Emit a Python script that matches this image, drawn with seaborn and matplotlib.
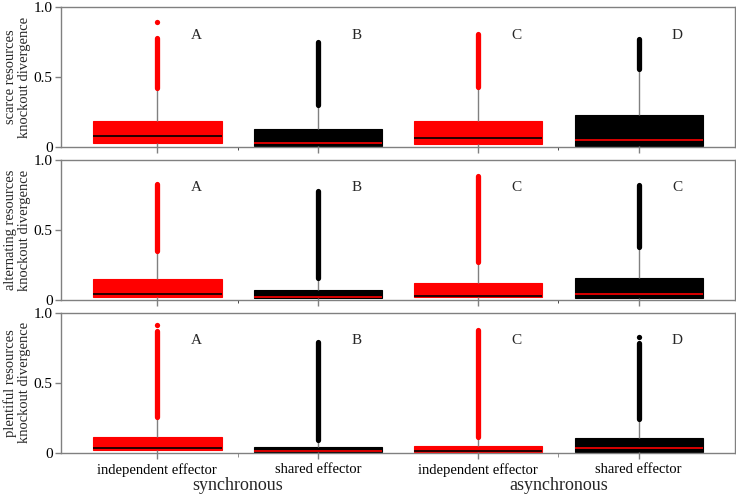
import numpy as np
import pandas as pd
import matplotlib.pyplot as plt
import matplotlib.transforms as mtransforms
import seaborn as sns

# box slots: sync indep, sync shared, async indep, async shared
slots = ['sync_indep', 'sync_shared', 'async_indep', 'async_shared']
tick_labels = ['independent effector', 'shared effector', 'independent effector', 'shared effector']
groups = ['synchronous', 'asynchronous']
row_labels = ['scarce resources\nknockout divergence',
              'alternating resources\nknockout divergence',
              'plentiful resources\nknockout divergence']

# five-number style summaries (one list per row)
q1 = [[0.034, 0.010, 0.024, 0.010],
      [0.024, 0.012, 0.019, 0.012],
      [0.019, 0.007, 0.009, 0.010]]
med = [[0.081, 0.033, 0.069, 0.055],
       [0.047, 0.021, 0.031, 0.043],
       [0.033, 0.015, 0.015, 0.038]]
q3 = [[0.190, 0.129, 0.188, 0.230],
      [0.154, 0.069, 0.119, 0.161],
      [0.116, 0.045, 0.052, 0.107]]
whisk_lo = [[0.0, 0.0, 0.0, 0.0],
            [0.0, 0.0, 0.0, 0.0],
            [0.0, 0.0, 0.0, 0.0]]
whisk_hi = [[0.415, 0.295, 0.425, 0.550],
            [0.343, 0.154, 0.265, 0.375],
            [0.253, 0.087, 0.105, 0.235]]
# outliers are so dense they form a solid band
flier_lo = [[0.42, 0.30, 0.43, 0.555],
            [0.348, 0.159, 0.27, 0.38],
            [0.258, 0.092, 0.111, 0.24]]
flier_hi = [[0.78, 0.75, 0.81, 0.77],
            [0.83, 0.775, 0.886, 0.82],
            [0.87, 0.79, 0.879, 0.784]]
# lone outliers above the band: (row, slot, value)
lone_rows = [0, 2, 2]
lone_slots = [0, 0, 3]
lone_vals = [0.89, 0.915, 0.83]

letters = [['A', 'B', 'C', 'D'],
           ['A', 'B', 'C', 'C'],
           ['A', 'B', 'C', 'D']]

box_colors = ['#ff0000', '#000000', '#ff0000', '#000000']
grey = '#808080'

sns.set_style('ticks')
plt.rcParams['font.family'] = ['Liberation Serif', 'DejaVu Serif']

fig, axes = plt.subplots(3, 1, figsize=(7.36, 4.96), dpi=100, sharex=True)
fig.subplots_adjust(left=0.083, right=0.9986, top=0.986, bottom=0.0867, hspace=0.089)

for r, ax in enumerate(axes):
    rows = []
    for i, s in enumerate(slots):
        for v in [whisk_lo[r][i], q1[r][i], med[r][i], q3[r][i], whisk_hi[r][i]]:
            rows.append({'slot': s, 'value': v})
    df = pd.DataFrame(rows)

    for color, mcolor in [('#ff0000', '#000000'), ('#000000', '#ff0000')]:
        keep = [s for s, c in zip(slots, box_colors) if c == color]
        sns.boxplot(data=df[df.slot.isin(keep)], x='slot', y='value', order=slots,
                    color=color, linecolor=color, saturation=1, width=0.8,
                    linewidth=0.8, whis=(0, 100), showcaps=False, showfliers=False,
                    medianprops=dict(color=mcolor, linewidth=1.2),
                    whiskerprops=dict(color=grey, linewidth=1),
                    ax=ax)

    for i in range(4):
        ax.vlines(i, flier_lo[r][i], flier_hi[r][i], colors=box_colors[i],
                  linewidth=3.8, capstyle='round', zorder=3)
        ax.text(i + 0.24, 0.8, letters[r][i], ha='center', va='center', fontsize=11)

    for lr, ls, lv in zip(lone_rows, lone_slots, lone_vals):
        if lr == r:
            ax.plot(ls, lv, 'o', color=box_colors[ls], ms=3.8, mec='none', zorder=3)

    ax.set_xlim(-0.6, 3.6)
    ax.set_ylim(0, 1.0)
    ax.set_yticks([0, 0.5, 1.0])
    ax.set_yticklabels(['0', '0.5', '1.0'], fontsize=11)
    ax.set_ylabel(row_labels[r], fontsize=10.5, labelpad=2, linespacing=1.05)
    ax.set_xlabel('')
    for sp in ax.spines.values():
        sp.set_visible(True)
        sp.set_color(grey)
        sp.set_linewidth(1)
    ax.tick_params(axis='both', color=grey, length=4, width=1, labelcolor='black', pad=2)
    ax.set_xticks(range(4))
    ax.tick_params(axis='x', labelbottom=False)

bot = axes[-1]
bot.set_xticks(range(4))
bot.set_xticklabels(tick_labels, fontsize=10.5)
bot.tick_params(axis='x', labelbottom=True, pad=3)
bot.set_xticks([0.5, 2.5], minor=True)
bot.tick_params(axis='x', which='minor', length=3, color=grey)
trans = mtransforms.blended_transform_factory(bot.transData, bot.transAxes)
for gx, g in zip([0.5, 2.5], groups):
    bot.text(gx, -0.23, g, transform=trans, ha='center', va='center', fontsize=13)

plt.savefig('out.png', dpi=100)
